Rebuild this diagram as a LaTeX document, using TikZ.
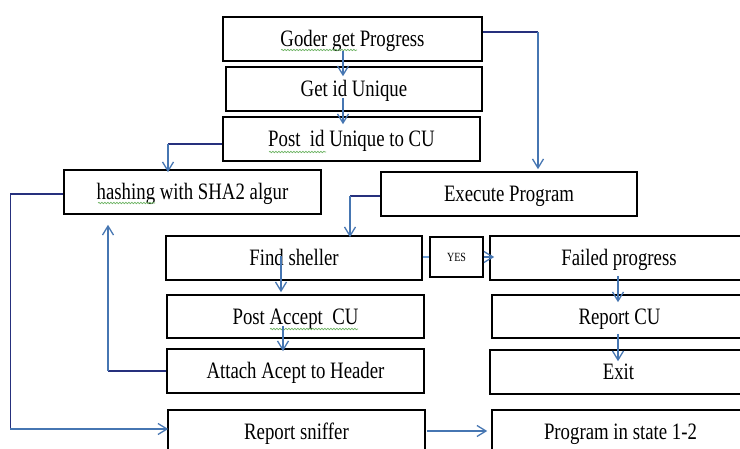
\documentclass[tikz,border=0pt]{standalone}
\usepackage{fontspec}
\setmainfont{Liberation Serif}
\newfontfamily\boxfont[FakeStretch=0.8]{Liberation Serif}
\usetikzlibrary{arrows.meta,calc,decorations.pathmorphing}

\definecolor{navyline}{RGB}{38,48,125}
\definecolor{steelline}{RGB}{70,118,178}
\definecolor{paleline}{RGB}{110,160,215}
\definecolor{spellgreen}{RGB}{110,180,100}

\tikzset{
  stepbox/.style={draw=black, line width=1.6pt, fill=white, inner sep=0pt,
    minimum height=44pt, text height=15.5pt, text depth=0pt,
    font=\boxfont\fontsize{23.5}{28}\selectfont},
  yesbox/.style={draw=black, line width=2.6pt, fill=white, inner sep=0pt,
    minimum width=53pt, minimum height=40pt,
    font=\boxfont\fontsize{12.5}{14}\selectfont},
  arr/.style={steelline, line width=1.3pt,
    -{Straight Barb[length=9pt,width=11pt]}},
  hline/.style={navyline, line width=1.4pt},
  vline/.style={navyline, line width=1.3pt},
  thinlink/.style={paleline, line width=1.2pt},
  spell/.style={spellgreen, line width=0.7pt, decorate,
    decoration={snake, amplitude=0.7pt, segment length=3pt}}
}

\begin{document}
\begin{tikzpicture}[x=1pt, y=-1pt]
  \useasboundingbox (0,0) rectangle (740,449);
  \fill[white] (0,0) rectangle (740,449);
  \clip (0,0) rectangle (740,449);

  % boxes
  \node[stepbox, minimum width=259pt] (goder)   at (352.5,39)  {Goder get Progress};
  \node[stepbox, minimum width=256pt] (getid)   at (354,89)    {Get id Unique};
  \node[stepbox, minimum width=257pt] (postid)  at (351.5,139) {Post\ \ id Unique to CU};
  \node[stepbox, minimum width=257pt] (hash)    at (192.5,192) {hashing with SHA2 algur};
  \node[stepbox, minimum width=256pt] (exec)    at (509,194)   {Execute Program};
  \node[stepbox, minimum width=256pt] (find)    at (294,258)   {Find sheller};
  \node[stepbox, minimum width=257pt, minimum height=43pt] (postacc) at (295.5,316.5) {Post Accept\ \ CU};
  \node[stepbox, minimum width=257pt] (attach)  at (295.5,371) {Attach Acept to Header};
  \node[stepbox, minimum width=257pt] (sniff)   at (296.5,432) {Report sniffer};
  \node[yesbox] (yes) at (456.5,257) {YES};
  \node[stepbox, minimum width=258pt] (failed)  at (619,258)   {Failed progress};
  \node[stepbox, minimum width=255pt, minimum height=43pt] (repcu) at (619.5,316.5) {Report CU};
  \node[stepbox, minimum width=257pt] (exit)    at (618.5,372) {Exit};
  \node[stepbox, minimum width=257pt] (prog)    at (620.5,432) {Program in state 1-2};

  % spell-check underlines
  \draw[spell] ($(goder.center)+(-71.5,11)$) -- ($(goder.center)+(4.5,11)$);
  \draw[spell] ($(postid.center)+(-82.5,13)$) -- ($(postid.center)+(-25.5,13)$);
  \draw[spell] ($(hash.center)+(-94.5,11)$) -- ($(hash.center)+(-37.5,11)$);
  \draw[spell] ($(postacc.center)+(-25.5,12.5)$) -- ($(postacc.center)+(62.5,12.5)$);

  % straight links down the columns
  \draw[arr] ($(goder.south)+(-9.5,-11)$) -- ($(getid.north)+(-11,10)$);
  \draw[arr] ($(getid.south)+(-11,-14)$) -- ($(postid.north)+(-8.5,8)$);
  \draw[arr] ($(find.south)+(-13,-25)$) -- ($(postacc.north)+(-14.5,-2)$);
  \draw[arr] ($(postacc.south)+(-12.5,-13)$) -- ($(attach.north)+(-12.5,3)$);
  \draw[arr] ($(failed.south)+(-1,-5)$) -- ($(repcu.north)+(-1.5,8)$);
  \draw[arr] ($(repcu.south)+(-1.5,-5)$) -- ($(exit.north)+(-0.5,12)$);

  % postid -> hash
  \coordinate (a1) at ($(postid.west)+(0,5)$);
  \coordinate (a2) at ($(hash.north)+(-24.5,3)$);
  \draw[hline] (a1) -- (a1 -| a2);
  \draw[arr] (a1 -| a2) -- (a2);

  % goder -> exec
  \coordinate (b1) at ($(goder.east)+(0,-7)$);
  \coordinate (b2) at ($(exec.north)+(29,-2)$);
  \draw[hline] (b1) -- (b1 -| b2);
  \draw[arr] (b1 -| b2) -- (b2);

  % exec -> find
  \coordinate (c1) at ($(exec.west)+(0,2)$);
  \coordinate (c2) at ($(find.north)+(56,2)$);
  \draw[hline] (c1) -- (c1 -| c2);
  \draw[arr] (c1 -| c2) -- (c2);

  % attach -> hash
  \coordinate (d1) at (attach.west);
  \coordinate (d2) at ($(hash.south)+(-84.5,10)$);
  \draw[hline] (d1) -- (d1 -| d2);
  \draw[arr] (d1 -| d2) -- (d2);

  % hash -> sniff
  \coordinate (e1) at ($(hash.west)+(0,2)$);
  \coordinate (e2) at ($(hash.west)+(-53,2)$);
  \coordinate (e3) at ($(sniff.west)+(1,-3)$);
  \draw[hline] (e1) -- (e2);
  \draw[vline] (e2) -- (e2 |- e3);
  \draw[arr] (e2 |- e3) -- (e3);

  % find -> yes -> failed
  \draw[thinlink] ($(find.east)+(0,-1)$) -- (yes.west);
  \draw[arr] (yes.east) -- ($(failed.west)+(5,-1)$);

  % sniff -> prog
  \draw[arr] ($(sniff.east)+(1,-1)$) -- ($(prog.west)+(-4,-1)$);
\end{tikzpicture}
\end{document}
